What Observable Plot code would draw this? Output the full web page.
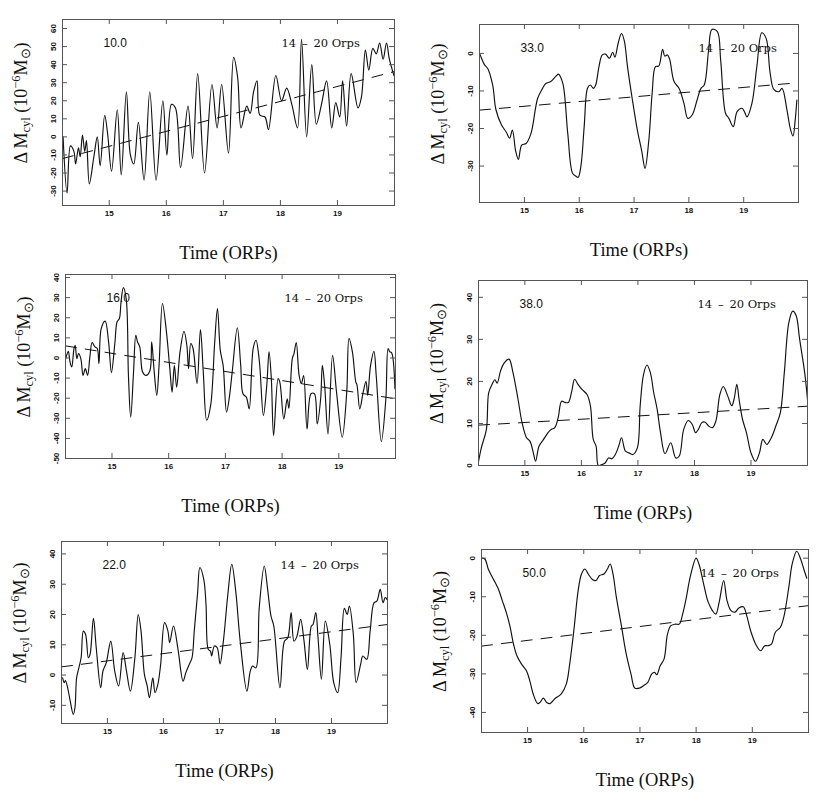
<!DOCTYPE html>
<html>
<head>
<meta charset="utf-8">
<script src="https://cdn.jsdelivr.net/npm/d3@7"></script>
<script src="https://cdn.jsdelivr.net/npm/@observablehq/plot@0.6"></script>
<style>
  html, body { margin: 0; padding: 0; background: #fff; }
  #root { position: relative; width: 831px; height: 802px; background: #fff; overflow: hidden; }
  #root svg { position: absolute; }
</style>
</head>
<body>
<div id="root"></div>
<script>
// ---------- data ----------
const xDomain = [14.18, 20.0];
const xTicks = [15, 16, 17, 18, 19];
const trendT = [14.18, 20.0];
const rangeLabel = "14\u2002\u2013\u200220 Orps";

// panel 10.0
const t10 = [14.19,14.26,14.32,14.38,14.41,14.46,14.49,14.53,14.57,14.60,14.65,14.73,14.79,14.84,14.92,14.97,15.04,15.14,15.21,15.30,15.37,15.43,15.51,15.61,15.71,15.82,15.94,16.01,16.09,16.16,16.25,16.38,16.46,16.55,16.67,16.80,16.89,16.97,17.09,17.18,17.25,17.31,17.41,17.47,17.53,17.59,17.64,17.73,17.79,17.92,18.02,18.11,18.20,18.30,18.37,18.46,18.55,18.63,18.72,18.81,18.90,18.97,19.04,19.09,19.16,19.24,19.36,19.42,19.49,19.55,19.62,19.68,19.74,19.80,19.86,19.91,19.99];
const v10 = [0,-31,-5,-8,-15,-6,-11,1,-8,-2,-26,-11,0,-16,12,2,-19,15,-21,25,-10,-15,8,-24,25,-24,20,-10,18,16,-17,17,-12,35,-20,29,5,29,-9,44,33,5,17,13,25,31,12,11,4,34,20,27,18,5,54,0,40,7,18,31,5,19,11,31,6,35,16,22,48,37,49,46,52,43,52,43,34];
const trend10 = [-12, 36.2];
const yTicks10 = [-30,-20,-10,0,10,20,30,40,50,60];

// panel 33.0
const t33 = [14.18,14.21,14.27,14.33,14.42,14.48,14.58,14.67,14.73,14.78,14.84,14.89,14.95,15.03,15.12,15.24,15.33,15.39,15.48,15.58,15.62,15.70,15.79,15.88,15.94,15.98,16.03,16.09,16.15,16.20,16.26,16.30,16.36,16.42,16.48,16.55,16.61,16.65,16.71,16.77,16.82,16.88,16.97,17.06,17.14,17.20,17.27,17.33,17.39,17.45,17.52,17.56,17.61,17.65,17.73,17.82,17.91,17.98,18.06,18.15,18.22,18.28,18.36,18.42,18.52,18.58,18.67,18.73,18.81,18.88,18.97,19.01,19.06,19.15,19.24,19.33,19.41,19.48,19.55,19.64,19.70,19.79,19.85,19.90,19.94,19.97];
const v33 = [0,-1,-3,-4,-8.4,-15,-19,-21,-22.6,-20.4,-26,-28.2,-24.4,-24,-21.3,-12,-9.3,-8,-7.5,-6,-5.5,-8,-21.3,-32,-32.7,-33,-30,-19.5,-9.3,-8.4,-9.3,-8.4,-3.5,-0.4,-0.2,-1.3,0.3,-1,2.7,5.3,3.5,-3.5,-12.4,-20.4,-26,-30.6,-23,-10.6,-3.5,-3.4,1.1,-0.7,-0.4,-1.6,-7.5,-9.3,-13.3,-17.3,-16.4,-12.4,-9.3,-8.4,0.9,6.4,5.8,-1.8,-16,-17.3,-19.5,-15.5,-14.6,-15.4,-16.9,-13.3,-3.5,5.5,4,-4.9,-9.6,-10.2,-9.3,-15.1,-20,-22,-17.7,-12.4];
const trend33 = [-15.1, -7.8];
const yTicks33 = [-30,-20,-10,0];

// panel 16.0
const t16 = [14.17,14.20,14.23,14.26,14.29,14.33,14.35,14.38,14.41,14.45,14.49,14.53,14.57,14.61,14.65,14.70,14.74,14.77,14.81,14.88,14.94,14.99,15.05,15.09,15.13,15.16,15.20,15.25,15.29,15.33,15.38,15.42,15.45,15.49,15.54,15.60,15.67,15.70,15.74,15.79,15.83,15.89,15.96,16.02,16.06,16.10,16.14,16.20,16.27,16.32,16.35,16.39,16.43,16.50,16.56,16.61,16.67,16.74,16.81,16.86,16.91,16.96,17.02,17.07,17.12,17.21,17.27,17.31,17.37,17.42,17.49,17.54,17.60,17.67,17.73,17.77,17.81,17.85,17.93,17.96,18.03,18.09,18.12,18.18,18.21,18.25,18.30,18.34,18.38,18.44,18.51,18.57,18.62,18.68,18.71,18.75,18.81,18.89,18.96,19.06,19.14,19.18,19.24,19.30,19.32,19.37,19.43,19.48,19.51,19.56,19.62,19.66,19.75,19.83,19.87,19.90,19.93,19.99];
const v16 = [-2,1.3,3.3,-2,-4.5,4.7,6.3,-0.3,2.2,-0.3,-8.7,-5.3,-8.7,0.5,7.7,5.5,4.7,-2.8,14.6,18.3,8,-7.3,7.2,18,19.6,28,35,29.6,-8.7,-29.5,-7,11.3,8,5.5,-7,-8.7,-6.2,8,-5.3,-18.6,-3.7,27.1,13,-5.3,-17,-3.7,-14.5,3,13.3,6.3,-5.3,7.2,4.7,-12.8,14.1,-7,-31,-23.6,7.2,24.6,3.8,-3.7,-27,-19.5,-7,15,-3.7,-17.8,-19.5,-25.3,4.7,8.8,-2,-28.6,-13.6,3,-10.3,-38.6,-10.3,-12,-30.3,-20.3,-25,-0.3,2.2,7.7,-8.7,-12.8,-8.7,-35.3,-17.8,-17.8,-32.8,-20.3,-3.7,-13.6,-37.8,1.3,-17,-39.4,-17,9.7,3,-12,-13.3,-25.3,-17,-11.6,-18.6,-3.7,3.3,-8.7,-41.6,-20.3,4.7,3,2.7,-15.3];
const trend16 = [6, -20.3];
const yTicks16 = [-50,-40,-30,-20,-10,0,10,20,30,40];

// panel 38.0
const t38 = [14.17,14.23,14.32,14.36,14.42,14.47,14.51,14.57,14.63,14.72,14.79,14.88,14.95,15.03,15.09,15.15,15.19,15.25,15.33,15.41,15.47,15.53,15.59,15.65,15.71,15.77,15.83,15.88,15.94,16.01,16.10,16.16,16.21,16.26,16.30,16.36,16.42,16.48,16.54,16.60,16.66,16.71,16.78,16.84,16.91,16.99,17.04,17.10,17.16,17.22,17.28,17.34,17.40,17.48,17.58,17.67,17.73,17.81,17.89,17.96,18.02,18.07,18.13,18.19,18.25,18.32,18.38,18.45,18.51,18.59,18.66,18.70,18.75,18.79,18.85,18.92,19.00,19.08,19.15,19.21,19.28,19.36,19.44,19.52,19.59,19.67,19.74,19.80,19.86,19.95,20.0];
const v38 = [0.2,4.2,8.6,17.3,19.3,20.4,19.6,22.5,24.3,25.3,22.1,15.7,10.2,6.6,5.8,3,1,4.6,6.2,7.8,8.6,9,11.4,15.3,15,15,17.7,20.5,19.3,18.1,16.9,14.2,6.2,4.6,0,0.2,0.6,1.8,1.6,2.6,4.6,6.6,3.4,3,2.6,4.2,14.2,21.7,23.9,22.1,17.3,13.4,7.8,2.8,5.4,1.8,2.2,8.6,10.7,9.8,7.8,8.6,10.2,10.3,9.4,9,10.6,16.9,18.8,16.5,14.2,15.7,19.3,15.7,11,7.8,3,1,3,6.2,5,6.6,9.4,12.6,22.1,34,36.7,35.6,30.1,22.1,15.7];
const trend38 = [9.6, 14.1];
const yTicks38 = [0,10,20,30,40];

// panel 22.0
const t22 = [14.20,14.23,14.25,14.29,14.33,14.39,14.42,14.45,14.49,14.53,14.57,14.61,14.66,14.69,14.75,14.80,14.88,14.92,14.98,15.06,15.13,15.20,15.28,15.34,15.41,15.49,15.55,15.60,15.66,15.71,15.75,15.81,15.85,15.90,15.95,16.02,16.08,16.11,16.18,16.26,16.35,16.40,16.46,16.51,16.55,16.61,16.65,16.72,16.76,16.80,16.84,16.86,16.91,16.96,17.01,17.07,17.15,17.22,17.29,17.37,17.49,17.55,17.59,17.65,17.71,17.80,17.86,17.92,17.97,18.08,18.16,18.22,18.28,18.33,18.38,18.45,18.51,18.57,18.64,18.67,18.72,18.76,18.82,18.89,18.97,19.04,19.11,19.17,19.23,19.28,19.32,19.39,19.44,19.52,19.56,19.63,19.69,19.76,19.81,19.87,19.92,19.96,19.99];
const v22 = [-0.9,-2.5,-1.8,-4.2,-8,-13,-10.8,-0.9,2.4,5.7,14.5,13.4,5.7,6.8,18.7,9,-4.2,1.3,4.1,11.2,1.3,-3.6,7.4,1.3,-5.3,5.7,20,14.5,0.2,-3.6,-7.5,-0.9,-5.8,-3.1,3.5,17.3,14.5,10.7,16.2,8.5,-2,0.8,3.5,5.7,14.5,27.2,35.5,31.6,23.3,8.5,7.9,6.3,9.6,9,3.7,11.2,26.7,36.6,27.8,11.2,-5.3,1.3,3,2.4,22.2,36,28.3,19.5,16.2,-4.2,11.2,12.3,20.6,11.2,12.6,18.4,11.2,1.9,16.2,16.7,20.6,12.3,-1.4,17.8,10.1,-2.5,-5.8,5.7,22,20,22.8,13.4,-2.5,3.5,6.3,5.2,14.5,23.9,24.4,28.3,23.9,25.6,25];
const trend22 = [2.7, 16.7];
const yTicks22 = [-10,0,10,20,30,40];

// panel 50.0
const t50 = [14.17,14.24,14.30,14.39,14.48,14.55,14.63,14.69,14.75,14.81,14.89,14.98,15.04,15.10,15.18,15.22,15.28,15.34,15.40,15.48,15.60,15.69,15.75,15.83,15.90,15.96,16.02,16.08,16.16,16.22,16.28,16.36,16.42,16.47,16.52,16.58,16.67,16.75,16.84,16.91,16.99,17.08,17.14,17.21,17.26,17.30,17.36,17.43,17.49,17.55,17.63,17.70,17.76,17.82,17.90,18.00,18.05,18.14,18.21,18.29,18.35,18.41,18.49,18.55,18.62,18.69,18.76,18.84,18.90,18.97,19.06,19.15,19.22,19.28,19.34,19.41,19.50,19.56,19.65,19.71,19.79,19.86,19.92,19.97];
const v50 = [0,-0.2,-2.8,-5.4,-8,-11,-14.5,-17.9,-22.3,-25.3,-27.4,-29.2,-31.8,-35.2,-37.7,-37.4,-36.3,-37.4,-37.7,-36.5,-35.2,-32.6,-27.4,-17.9,-8.4,-4.1,-2.8,-4.1,-5.6,-5.8,-4.5,-4.1,-2.8,-1.5,-4.1,-10.1,-17.5,-24.4,-30,-33.7,-33.7,-32.9,-32.2,-30,-29.6,-30.2,-27.9,-26.1,-19.7,-17.5,-17.1,-17.1,-14.5,-10.6,-4.5,0,-1.5,-7.1,-11.2,-13.6,-14.5,-11.4,-5.8,-11,-13.6,-14,-12.9,-12.6,-14.9,-18.8,-22.3,-24,-22.7,-22.7,-22.3,-19.2,-17.9,-15.3,-7.5,-1.5,1.8,-0.2,-3,-5.2];
const trend50 = [-22.8, -12.3];
const yTicks50 = [-40,-30,-20,-10,0];

// ---------- layout ----------
const panels = [
  {label: "10.0", t: t10, v: v10, trend: trend10, yTicks: yTicks10, yDomain: [-38, 65],   L: 62,  R: 394, T: 19,  B: 205},
  {label: "33.0", t: t33, v: v33, trend: trend33, yTicks: yTicks33, yDomain: [-39.7, 7.7], L: 479, R: 798, T: 24,  B: 202},
  {label: "16.0", t: t16, v: v16, trend: trend16, yTicks: yTicks16, yDomain: [-50, 41.5], L: 65,  R: 395, T: 274, B: 458},
  {label: "38.0", t: t38, v: v38, trend: trend38, yTicks: yTicks38, yDomain: [0, 44],     L: 478, R: 807, T: 280, B: 465},
  {label: "22.0", t: t22, v: v22, trend: trend22, yTicks: yTicks22, yDomain: [-16, 44.1], L: 61,  R: 387, T: 541, B: 723},
  {label: "50.0", t: t50, v: v50, trend: trend50, yTicks: yTicks50, yDomain: [-45.2, 2.25], L: 481, R: 808, T: 549, B: 732}
];

const ML = 62, MR = 14, MT = 8, MB = 62;
const root = document.getElementById("root");
const serif = "Liberation Serif";
const sans = "Liberation Sans";

for (const p of panels) {
  const iw = p.R - p.L, ih = p.B - p.T;
  const series = p.t.map((t, i) => ({t, v: p.v[i]}));
  const trend = trendT.map((t, i) => ({t, v: p.trend[i]}));
  const svg = Plot.plot({
    width: iw + ML + MR,
    height: ih + MT + MB,
    marginLeft: ML, marginRight: MR, marginTop: MT, marginBottom: MB,
    x: {domain: xDomain, axis: null},
    y: {domain: p.yDomain, axis: null},
    style: {background: "transparent", overflow: "visible"},
    marks: [
      Plot.line(series, {x: "t", y: "v", curve: "catmull-rom", stroke: "#111", strokeWidth: 1.15, clip: true}),
      Plot.line(trend, {x: "t", y: "v", stroke: "#111", strokeWidth: 1, strokeDasharray: "11,9", clip: true}),
      Plot.ruleX(xTicks, {x: d => d, insetTop: ih - 5, stroke: "#555"}),
      Plot.ruleX(xTicks, {x: d => d, insetBottom: ih - 5, stroke: "#555"}),
      Plot.ruleY(p.yTicks, {y: d => d, insetRight: iw - 5, stroke: "#555"}),
      Plot.ruleY(p.yTicks, {y: d => d, insetLeft: iw - 5, stroke: "#555"}),
      Plot.frame({stroke: "#555", strokeWidth: 1}),
      Plot.text(xTicks, {x: d => d, frameAnchor: "bottom", dy: 8, text: d => String(d),
        fontSize: 8, fontWeight: "bold", fontFamily: sans, lineAnchor: "middle", fill: "#111"}),
      Plot.text(p.yTicks, {y: d => d, frameAnchor: "left", dx: -9, rotate: -90, text: d => String(d),
        fontSize: 8, fontWeight: "bold", fontFamily: sans, textAnchor: "middle", lineAnchor: "middle", fill: "#111"}),
      Plot.text([p.label], {frameAnchor: "top-left", dx: 41, dy: 24, text: d => d,
        textAnchor: "start", lineAnchor: "middle", fontSize: 12, fontFamily: sans, fill: "#111"}),
      Plot.text([rangeLabel], {frameAnchor: "top-left", dx: 219, dy: 24, text: d => d,
        textAnchor: "start", lineAnchor: "middle", fontSize: 11.5, fontFamily: "DejaVu Serif", fill: "#111"}),
      Plot.text(["Time (ORPs)"], {frameAnchor: "bottom", dy: 48, text: d => d,
        lineAnchor: "middle", fontSize: 18.5, fontFamily: serif, fill: "#111"})
    ]
  });
  // y axis label with sub/superscripts
  const lab = d3.select(svg).append("text")
    .attr("transform", `translate(${ML - 39},${MT + ih / 2 - 9}) rotate(-90)`)
    .attr("text-anchor", "middle")
    .attr("dominant-baseline", "middle")
    .attr("fill", "#111")
    .style("font-family", serif)
    .style("font-size", "18px");
  lab.append("tspan").text("\u0394 M");
  lab.append("tspan").attr("dy", 4).style("font-size", "12.5px").text("cyl");
  lab.append("tspan").attr("dy", -4).text(" (10");
  lab.append("tspan").attr("dy", -6).style("font-size", "12.5px").text("\u22126");
  lab.append("tspan").attr("dy", 6).text("M");
  lab.append("tspan").attr("dy", 4).style("font-size", "12.5px").text("\u2299");
  lab.append("tspan").attr("dy", -4).text(")");

  svg.style.left = (p.L - ML) + "px";
  svg.style.top = (p.T - MT) + "px";
  svg.style.maxWidth = "none";
  root.appendChild(svg);
}
</script>
</body>
</html>
